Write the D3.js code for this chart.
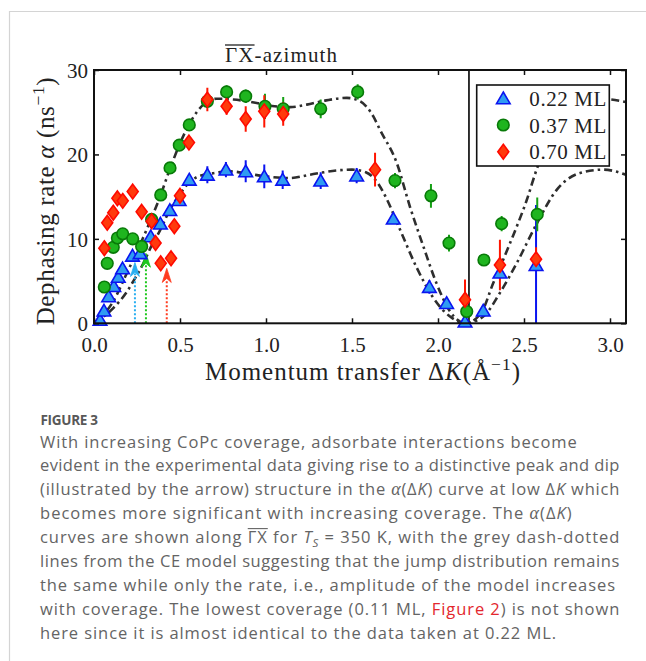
<!DOCTYPE html>
<html><head><meta charset="utf-8">
<script src="https://cdn.jsdelivr.net/npm/d3@7"></script>
<style>
html,body{margin:0;padding:0;background:#fff;}
svg{display:block;}
</style></head><body>
<script>
// ---------- data ----------
const xTicks = [0, 0.5, 1.0, 1.5, 2.0, 2.5, 3.0];
const xTickLabels = ["0.0", "0.5", "1.0", "1.5", "2.0", "2.5", "3.0"];
const yTicks = [0, 10, 20, 30];
const yTickLabels = ["0", "10", "20", "30"];
const seriesNames = ["0.22 ML", "0.37 ML", "0.70 ML"];

const blueX = [0.035, 0.058, 0.085, 0.115, 0.141, 0.166, 0.224, 0.268, 0.33, 0.386, 0.441, 0.495, 0.554, 0.659, 0.767, 0.882, 0.99, 1.097, 1.318, 1.527, 1.74, 1.95, 2.05, 2.157, 2.263, 2.36, 2.57];
const blueY = [0.4, 1.5, 3.2, 4.4, 5.5, 6.5, 8.0, 8.3, 10.3, 11.8, 13.4, 14.6, 17.0, 17.6, 18.2, 18.0, 17.4, 17.0, 16.9, 17.5, 12.4, 4.3, 2.4, 0.2, 1.5, 6.0, 6.9];
const blueErr = [0.2, 0.2, 0.3, 0.3, 0.3, 0.3, 0.4, 0.4, 0.4, 0.4, 0.4, 0.5, 0.6, 1.0, 0.9, 1.3, 1.4, 1.1, 1.0, 0.9, 0.6, 0.8, 0.5, 0.4, 0.4, 0.6, 7.1];

const greenX = [0.06, 0.077, 0.112, 0.136, 0.167, 0.225, 0.277, 0.335, 0.388, 0.442, 0.496, 0.554, 0.659, 0.771, 0.882, 0.994, 1.1, 1.318, 1.533, 1.75, 1.959, 2.064, 2.167, 2.267, 2.37, 2.577];
const greenY = [4.3, 7.1, 9.0, 10.1, 10.6, 10.0, 9.1, 12.3, 15.2, 18.4, 21.1, 23.5, 26.3, 27.4, 26.9, 25.7, 25.4, 25.4, 27.4, 16.9, 15.1, 9.5, 1.4, 7.5, 11.8, 12.9];
const greenErr = [0.3, 0.3, 0.3, 0.3, 0.3, 0.3, 0.4, 0.4, 0.4, 0.5, 0.5, 0.6, 0.8, 0.8, 0.8, 1.5, 1.4, 1.1, 0.9, 0.9, 1.4, 1.0, 0.6, 0.4, 0.9, 2.0];

const redX = [0.06, 0.077, 0.112, 0.136, 0.167, 0.225, 0.277, 0.335, 0.358, 0.388, 0.448, 0.467, 0.5, 0.552, 0.659, 0.771, 0.882, 0.99, 1.1, 1.634, 2.157, 2.36, 2.57];
const redY = [8.9, 11.9, 13.1, 14.8, 14.5, 15.6, 13.2, 12.1, 9.5, 7.1, 7.7, 11.5, 15.1, 21.4, 26.5, 25.7, 24.2, 25.1, 24.8, 18.2, 2.8, 6.9, 7.6];
const redErr = [0.3, 0.3, 0.3, 0.3, 0.3, 0.3, 0.3, 0.3, 0.3, 0.3, 0.3, 0.3, 0.4, 0.5, 1.4, 1.0, 1.5, 1.9, 1.4, 2.0, 2.4, 3.0, 1.4];

// CE model curves (grey dash-dotted)
const lowerCurveX = [0, 0.112, 0.19, 0.229, 0.287, 0.33, 0.384, 0.44, 0.5, 0.55, 0.607, 0.7, 0.79, 0.9, 1.0, 1.14, 1.256, 1.41, 1.5, 1.58, 1.65, 1.70, 1.779, 1.876, 1.973, 2.07, 2.16, 2.263, 2.36, 2.457, 2.574, 2.69, 2.826, 2.96, 3.093];
const lowerCurveY = [0, 1.8, 3.7, 5.0, 7.1, 9.0, 11.0, 13.4, 15.3, 16.6, 17.4, 17.8, 18.0, 17.7, 17.4, 17.2, 17.6, 18.1, 18.2, 17.9, 16.6, 14.8, 11.1, 6.6, 3.0, 0.8, 0, 0.8, 3.6, 7.1, 11.8, 15.8, 17.8, 18.2, 17.6];
const upperCurveX = [0, 0.112, 0.19, 0.306, 0.384, 0.44, 0.5, 0.568, 0.636, 0.713, 0.81, 0.946, 1.05, 1.14, 1.237, 1.35, 1.47, 1.547, 1.624, 1.663, 1.76, 1.837, 1.915, 1.992, 2.07, 2.16, 2.25, 2.32, 2.419, 2.516, 2.58, 2.7, 2.85, 2.95, 3.093];
const upperCurveY = [0, 2.6, 5.9, 11.1, 15.0, 18.2, 21.3, 24.1, 25.9, 26.6, 26.5, 26.1, 25.7, 25.6, 25.9, 26.4, 26.7, 26.3, 24.5, 22.9, 19.0, 13.8, 9.1, 4.7, 1.4, 0, 1.2, 4.7, 9.5, 14.6, 18.6, 23.5, 26.3, 26.6, 26.2];

// dotted arrows marking the peak/dip
const arrowX = [0.238, 0.302, 0.423];
const arrowTip = [7.2, 8.3, 6.5];
const arrowColors = ["#28aef0", "#1ec81e", "#ff3b1f"];

const jumpLineX = 2.18;

// caption
const captionTitle = "FIGURE 3";
const captionLines = [
  [["With increasing CoPc coverage, adsorbate interactions become"]],
  [["evident in the experimental data giving rise to a distinctive peak and dip"]],
  [["(illustrated by the arrow) structure in the "], ["α", "a"], ["(Δ"], ["K", "i"], [") curve at low Δ"], ["K", "i"], [" which"]],
  [["becomes more significant with increasing coverage. The "], ["α", "a"], ["(Δ"], ["K", "i"], [")"]],
  [["curves are shown along "], ["ΓX", "o"], [" for "], ["T", "i"], ["S", "s"], [" = 350 K, with the grey dash-dotted"]],
  [["lines from the CE model suggesting that the jump distribution remains"]],
  [["the same while only the rate, i.e., amplitude of the model increases"]],
  [["with coverage. The lowest coverage (0.11 ML, "], ["Figure 2", "r"], [") is not shown"]],
  [["here since it is almost identical to the data taken at 0.22 ML."]]
];
const captionEnds = [576.7, 619.3, 619.3, 571.7, 619.3, 619.3, 615, 619.3, 556];

// ---------- drawing ----------
const W = 646, H = 661;
const SERIF = "'Liberation Serif', 'Times New Roman', serif";
const SANS = "'Open Sans', Lato, sans-serif";

const svg = d3.select("body").append("svg").attr("width", W).attr("height", H);
svg.append("rect").attr("width", W).attr("height", H).attr("fill", "#fff");
svg.append("path").attr("d", "M9.5,661 L9.5,11.5 L646,11.5")
  .attr("fill", "none").attr("stroke", "#d4d4d4").attr("stroke-width", 1.2);

const x = d3.scaleLinear().domain([0, 3.093]).range([94, 626]);
const y = d3.scaleLinear().domain([0, 30]).range([323.3, 70]);
const [x0, x1] = x.range(), [y0, y1] = y.range();

svg.append("defs").append("clipPath").attr("id", "pc")
  .append("rect").attr("x", x0).attr("y", y1).attr("width", x1 - x0).attr("height", y0 - y1);

const plot = svg.append("g").attr("clip-path", "url(#pc)");

// model curves
const line = d3.line().x(d => x(d[0])).y(d => y(d[1])).curve(d3.curveMonotoneX);
[[lowerCurveX, lowerCurveY], [upperCurveX, upperCurveY]].forEach(([cx, cy]) => {
  plot.append("path").attr("d", line(cx.map((v, i) => [v, cy[i]])))
    .attr("fill", "none").attr("stroke", "#2e2e2e").attr("stroke-width", 2.6)
    .attr("stroke-dasharray", "8,4,2.5,4");
});

// vertical line
plot.append("line").attr("x1", x(jumpLineX)).attr("x2", x(jumpLineX))
  .attr("y1", y1).attr("y2", y0).attr("stroke", "#000").attr("stroke-width", 1.6);

// arrows
arrowX.forEach((ax, i) => {
  const px = x(ax), tip = y(arrowTip[i]), base = tip + 14;
  plot.append("line").attr("x1", px).attr("x2", px).attr("y1", y0).attr("y2", base - 3)
    .attr("stroke", arrowColors[i]).attr("stroke-width", 2).attr("stroke-dasharray", "2,2");
  plot.append("path").attr("d", `M${px},${tip} L${px + 4.5},${base} L${px},${base - 4} L${px - 4.5},${base} Z`)
    .attr("fill", arrowColors[i]).attr("stroke", arrowColors[i]).attr("stroke-width", 0.8);
});

// series definitions
const series = [
  { xs: blueX, ys: blueY, es: blueErr, shape: "tri", fill: "#2f9cf2", stroke: "#0a14f0", err: "#0a14f0" },
  { xs: greenX, ys: greenY, es: greenErr, shape: "circ", fill: "#1fb51f", stroke: "#087a08", err: "#14a014" },
  { xs: redX, ys: redY, es: redErr, shape: "dia", fill: "#ff3a0c", stroke: "#ff0a00", err: "#ff1500" }
];

function marker(g, shape, cx, cy, s) {
  let el;
  if (shape === "tri") {
    el = g.append("path").attr("d", `M${cx},${cy - 6.3} L${cx + 6.8},${cy + 5.4} L${cx - 6.8},${cy + 5.4} Z`);
  } else if (shape === "circ") {
    el = g.append("circle").attr("cx", cx).attr("cy", cy).attr("r", 5.8);
  } else {
    el = g.append("path").attr("d", `M${cx},${cy - 7.4} L${cx + 5.5},${cy} L${cx},${cy + 7.4} L${cx - 5.5},${cy} Z`);
  }
  el.attr("fill", s.fill).attr("stroke", s.stroke).attr("stroke-width", 1.6);
}

// error bars then markers
const markG = svg.append("g");
series.forEach(s => {
  s.xs.forEach((v, i) => {
    plot.append("line").attr("x1", x(v)).attr("x2", x(v))
      .attr("y1", y(s.ys[i] - s.es[i])).attr("y2", y(s.ys[i] + s.es[i]))
      .attr("stroke", s.err).attr("stroke-width", 2);
  });
});
series.forEach(s => {
  s.xs.forEach((v, i) => marker(markG, s.shape, x(v), y(s.ys[i]), s));
});

// frame
svg.append("rect").attr("x", x0).attr("y", y1).attr("width", x1 - x0).attr("height", y0 - y1)
  .attr("fill", "none").attr("stroke", "#111").attr("stroke-width", 2);

// axes
function styleAxis(g) {
  g.select(".domain").remove();
  g.selectAll(".tick line").attr("stroke", "#111").attr("stroke-width", 1.5);
  g.selectAll("text").attr("font-family", SERIF).attr("font-size", 21).attr("fill", "#222");
}
const gB = svg.append("g").attr("transform", `translate(0,${y0})`)
  .call(d3.axisBottom(x).tickValues(xTicks).tickFormat((d, i) => xTickLabels[i]).tickSize(-5).tickSizeOuter(0));
styleAxis(gB);
gB.selectAll("text").attr("dy", null).attr("y", 28.5);
const gT = svg.append("g").attr("transform", `translate(0,${y1})`)
  .call(d3.axisTop(x).tickValues(xTicks).tickFormat("").tickSize(-5).tickSizeOuter(0));
styleAxis(gT);
const gL = svg.append("g").attr("transform", `translate(${x0},0)`)
  .call(d3.axisLeft(y).tickValues(yTicks).tickFormat((d, i) => yTickLabels[i]).tickSize(-5).tickSizeOuter(0));
styleAxis(gL);
gL.selectAll("text").attr("dy", null).attr("x", -6).attr("y", 7.5);
const gR = svg.append("g").attr("transform", `translate(${x1},0)`)
  .call(d3.axisRight(y).tickValues(yTicks).tickFormat("").tickSize(-5).tickSizeOuter(0));
styleAxis(gR);

// helpers
function fitWidth(t, target) {
  const n = t.node();
  const w = n.getComputedTextLength();
  const c = n.getNumberOfChars();
  if (c > 1) t.attr("letter-spacing", (target - w) / (c - 1));
}
function supLabel(t, fs, parts) {
  let shifted = false;
  parts.forEach(([txt, kind]) => {
    const ts = t.append("tspan").text(txt);
    if (kind === "i") ts.attr("font-style", "italic");
    if (kind === "sup") { ts.attr("font-size", fs * 0.7).attr("dy", -fs * 0.42); shifted = true; }
    else if (shifted) { ts.attr("dy", fs * 0.42); shifted = false; }
  });
}

// axis labels
const xl = svg.append("text").attr("x", 363).attr("y", 380).attr("text-anchor", "middle")
  .attr("font-family", SERIF).attr("font-size", 25).attr("fill", "#222");
supLabel(xl, 25, [["Momentum transfer Δ"], ["K", "i"], ["(Å"], ["−1", "sup"], [")"]]);
fitWidth(xl, 315);

const yl = svg.append("text").attr("transform", "translate(54,201) rotate(-90)").attr("text-anchor", "middle")
  .attr("font-family", SERIF).attr("font-size", 25).attr("fill", "#222");
supLabel(yl, 25, [["Dephasing rate "], ["α", "i"], [" (ns"], ["−1", "sup"], [")"]]);
fitWidth(yl, 248);

// title
const tt = svg.append("text").attr("x", 225).attr("y", 62.3)
  .attr("font-family", SERIF).attr("font-size", 21).attr("fill", "#222").text("ΓX-azimuth");
fitWidth(tt, 112);
{
  const n = tt.node();
  const a = n.getStartPositionOfChar(0).x, b = n.getEndPositionOfChar(1).x;
  svg.append("line").attr("x1", a).attr("x2", b).attr("y1", 45).attr("y2", 45)
    .attr("stroke", "#222").attr("stroke-width", 1.3);
}

// legend
const lg = svg.append("g");
lg.append("rect").attr("x", 476.7).attr("y", 85).attr("width", 132.6).attr("height", 81)
  .attr("fill", "#fff").attr("stroke", "#111").attr("stroke-width", 1.6);
const rowY = [98.3, 125, 151.7];
series.forEach((s, i) => {
  marker(lg, s.shape, 503.3, rowY[i], s);
  const t = lg.append("text").attr("x", 529.3).attr("y", rowY[i] + 7.5)
    .attr("font-family", SERIF).attr("font-size", 21).attr("fill", "#222").text(seriesNames[i]);
  fitWidth(t, 77);
});

// caption
svg.append("text").attr("x", 40.5).attr("y", 424.5).attr("font-family", SANS)
  .attr("font-weight", 700).attr("font-size", 13.5).attr("fill", "#585858")
  .attr("letter-spacing", -0.3).text(captionTitle);

captionLines.forEach((segs, li) => {
  const by = 447.5 + li * 23.9;
  const t = svg.append("text").attr("x", 40).attr("y", by).attr("font-family", SANS)
    .attr("font-size", 16.5).attr("fill", "#646464");
  let idx = 0, sub = false;
  const over = [];
  segs.forEach(([txt, k]) => {
    const ts = t.append("tspan").text(txt);
    if (k === "a") ts.attr("font-family", SERIF).attr("font-style", "italic").attr("font-size", 18);
    if (k === "i") ts.attr("font-style", "italic");
    if (k === "r") ts.attr("fill", "#e3272d");
    if (k === "o") over.push([idx, idx + txt.length - 1]);
    if (k === "s") { ts.attr("font-style", "italic").attr("font-size", 11.5).attr("dy", 4); sub = true; }
    else if (sub) { ts.attr("dy", -4); sub = false; }
    idx += txt.length;
  });
  fitWidth(t, captionEnds[li] - 40);
  over.forEach(([a, b]) => {
    const n = t.node();
    const xa = n.getStartPositionOfChar(a).x, xb = n.getEndPositionOfChar(b).x;
    svg.append("line").attr("x1", xa).attr("x2", xb).attr("y1", by - 14.5).attr("y2", by - 14.5)
      .attr("stroke", "#646464").attr("stroke-width", 1.1);
  });
});
</script>
</body></html>
